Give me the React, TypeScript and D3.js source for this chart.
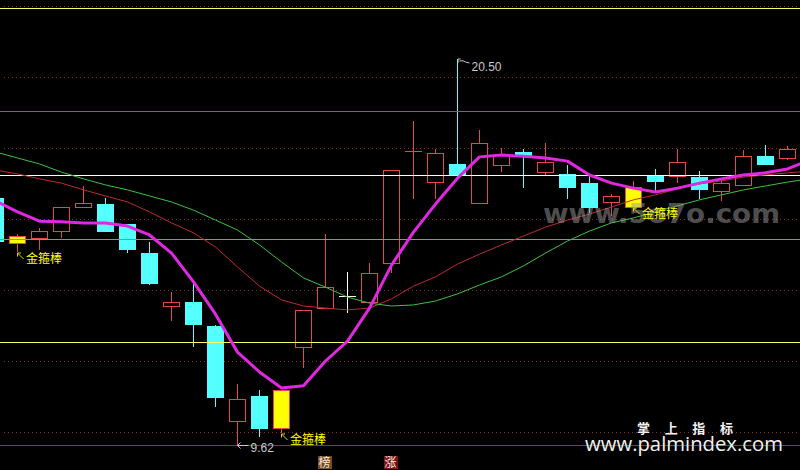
import * as d3 from "d3";

const W = 800;
const H = 470;

// daily K bars, left to right
const opens = [16.59, 15.32, 15.46, 15.66, 16.34, 16.42, 15.86, 15.04, 13.55, 13.66, 12.99, 10.31, 11.01, 10.11, 12.39, 13.49, 13.83, 13.66, 14.76, 17.92, 17.04, 17.55, 16.45, 17.52, 17.89, 17.32, 17.27, 17.01, 16.48, 16.34, 17.21, 17.21, 17.18, 16.79, 16.96, 17.77, 17.72];
const highs = [16.7, 15.58, 15.75, 16.34, 16.93, 16.59, 15.86, 15.35, 13.94, 14.2, 13.01, 11.35, 11.18, 11.18, 13.44, 15.58, 14.51, 14.76, 17.38, 18.76, 17.97, 20.5, 18.51, 18.0, 17.97, 18.14, 17.52, 17.21, 16.7, 17.07, 17.41, 17.97, 17.35, 17.1, 17.94, 18.08, 18.06];
const lows = [15.2, 15.07, 15.13, 15.46, 16.31, 15.63, 15.04, 14.14, 13.13, 12.39, 10.7, 9.62, 9.86, 9.97, 11.8, 13.49, 13.35, 13.66, 14.48, 16.56, 16.56, 17.13, 16.45, 17.32, 16.87, 17.24, 16.56, 16.17, 16.08, 16.34, 16.79, 17.01, 16.56, 16.51, 16.96, 17.52, 17.66];
const closes = [15.35, 15.52, 15.66, 16.34, 16.45, 15.63, 15.13, 14.17, 13.66, 13.01, 10.96, 10.93, 10.08, 11.18, 13.44, 14.08, 13.83, 14.48, 17.38, 17.92, 17.86, 17.24, 18.14, 17.8, 17.77, 17.61, 16.87, 16.31, 16.65, 16.9, 17.04, 17.61, 16.82, 17.01, 17.77, 17.52, 17.97];

// 金箍棒 signal bars and the white cross
const goldBars = [1, 13, 29];
const whiteCross = [16];

// indicator lines (one extra value past the right edge)
const fastLine = [16.51, 16.2, 15.94, 15.92, 15.89, 15.89, 15.8, 15.55, 15.04, 14.23, 13.32, 12.25, 11.69, 11.24, 11.3, 12.0, 12.56, 13.49, 14.7, 15.63, 16.42, 17.15, 17.75, 17.8, 17.77, 17.72, 17.63, 17.24, 17.01, 16.87, 16.76, 16.87, 17.01, 17.13, 17.24, 17.3, 17.41, 17.66];
const maRed = [17.38, 17.27, 17.13, 17.01, 16.82, 16.65, 16.48, 16.2, 15.89, 15.61, 15.21, 14.65, 14.11, 13.72, 13.55, 13.49, 13.44, 13.49, 13.75, 14.11, 14.37, 14.73, 15.01, 15.27, 15.52, 15.77, 15.97, 16.14, 16.34, 16.54, 16.68, 16.85, 16.99, 17.07, 17.18, 17.24, 17.3, 17.35];
const maGreen = [17.89, 17.72, 17.55, 17.32, 17.13, 16.96, 16.82, 16.65, 16.48, 16.25, 15.97, 15.69, 15.27, 14.79, 14.34, 14.08, 13.8, 13.63, 13.55, 13.58, 13.69, 13.89, 14.14, 14.37, 14.68, 15.04, 15.38, 15.66, 15.89, 16.03, 16.2, 16.37, 16.54, 16.68, 16.82, 16.93, 17.04, 17.13];

// horizontal price levels
const levels = [21.94, 19.04, 17.24, 15.44, 12.54, 9.62];
const levelColors = ["#ffff60", "#c030c0", "#ffffff", "#40c840", "#ffff60", "#c02020"];
const gridPrices = [10, 12, 14, 16, 18, 20, 22];

const bottomTags = [
  { index: 15, text: "榜", bg: "#7a4a1c" },
  { index: 18, text: "涨", bg: "#7a1212" },
];

const UP = "#e04a4a";
const DOWN = "#54ffff";
const GOLD = "#ffff00";

const x = d3.scaleLinear().domain([0, 36]).range([-4.5, 787.5]);
const y = d3.scaleLinear().domain([10, 22]).range([432, 6]);
const py = (v: number) => Math.round(y(v));

const lineGen = d3
  .line<number>()
  .x((_, i) => x(i))
  .y((d) => y(d));

const cjk = "'Noto Sans CJK SC', sans-serif";

function Candle({ i }: { i: number }) {
  const cx = x(i);
  const o = opens[i], c = closes[i], hi = highs[i], lo = lows[i];
  const top = py(Math.max(o, c));
  const bot = py(Math.min(o, c));
  const yh = py(hi);
  const yl = py(lo);

  if (whiteCross.includes(i) || (o === c && !goldBars.includes(i))) {
    const col = whiteCross.includes(i) ? "#ffffff" : UP;
    return (
      <g shapeRendering="crispEdges" stroke={col}>
        <line x1={cx} x2={cx} y1={yh} y2={yl} />
        <line x1={cx - 8.5} x2={cx + 8.5} y1={top + 0.5} y2={top + 0.5} />
      </g>
    );
  }

  if (goldBars.includes(i)) {
    return (
      <g shapeRendering="crispEdges">
        <line x1={cx} x2={cx} y1={yh} y2={top} stroke={UP} />
        <line x1={cx} x2={cx} y1={bot} y2={yl} stroke={UP} />
        <rect x={cx - 8} y={top + 0.5} width={16} height={bot - top} fill={GOLD} stroke={UP} />
      </g>
    );
  }

  if (c > o) {
    return (
      <g shapeRendering="crispEdges" stroke={UP}>
        <line x1={cx} x2={cx} y1={yh} y2={top} />
        <line x1={cx} x2={cx} y1={bot} y2={yl} />
        <rect x={cx - 8} y={top + 0.5} width={16} height={bot - top} fill="#000" />
      </g>
    );
  }

  return (
    <g shapeRendering="crispEdges">
      <line x1={cx} x2={cx} y1={yh} y2={yl} stroke={DOWN} />
      <rect x={cx - 8.5} y={top} width={17} height={Math.max(1, bot - top)} fill={DOWN} />
    </g>
  );
}

function GoldLabel({ i }: { i: number }) {
  const cx = x(i);
  const ly = py(lows[i]);
  return (
    <g>
      <path
        d={`M${cx + 6},${ly + 7} L${cx},${ly + 1} M${cx},${ly + 1} L${cx + 3.5},${ly + 1} M${cx},${ly + 1} L${cx},${ly + 4.5}`}
        stroke="#d8d800"
        strokeWidth={1}
        fill="none"
      />
      <text x={cx + 8.5} y={ly + 10.5} fontSize={12} fontFamily={cjk} fill={GOLD}>
        金箍棒
      </text>
    </g>
  );
}

export default function App() {
  const n = opens.length;
  const hiIdx = d3.maxIndex(highs);
  const loIdx = d3.minIndex(lows);
  const hx = x(hiIdx);
  const hy = py(highs[hiIdx]);
  const lx = x(loIdx);
  const ly = py(lows[loIdx]);

  return (
    <svg
      width={W}
      height={H}
      viewBox={`0 0 ${W} ${H}`}
      style={{ position: "absolute", left: 0, top: 0, display: "block", background: "#000" }}
    >
      <rect width={W} height={H} fill="#000" />

      {/* dotted grid */}
      <g shapeRendering="crispEdges">
        {gridPrices.map((p) => (
          <line key={p} x1={4} x2={W} y1={py(p) + 0.5} y2={py(p) + 0.5} stroke="#8a2a2a" strokeDasharray="1 3" />
        ))}
      </g>

      {d3.range(n).map((i) => (
        <Candle key={i} i={i} />
      ))}

      {/* price levels */}
      <g shapeRendering="crispEdges">
        {levels.map((p, k) => (
          <line key={k} x1={0} x2={W} y1={py(p) + 0.5} y2={py(p) + 0.5} stroke={levelColors[k]} strokeWidth={k === 1 ? 1.5 : 1} />
        ))}
      </g>

      <path d={lineGen(maRed) ?? ""} fill="none" stroke="#c02c2c" strokeWidth={1} />
      <path d={lineGen(maGreen) ?? ""} fill="none" stroke="#40c040" strokeWidth={1} />
      <path d={lineGen(fastLine) ?? ""} fill="none" stroke="#e028e0" strokeWidth={3} strokeLinejoin="round" />

      {/* watermark */}
      <text
        x={543}
        y={223}
        fontSize={27}
        fontWeight="bold"
        fontFamily="'DejaVu Sans', sans-serif"
        fill="#9a9a9a"
        opacity={0.5}
        textLength={237}
        lengthAdjust="spacingAndGlyphs"
      >
        www.5o7o.com
      </text>

      {goldBars.map((i) => (
        <GoldLabel key={i} i={i} />
      ))}

      {/* highest / lowest marks */}
      <g stroke="#c8c8c8" fill="none" strokeWidth={1}>
        <path d={`M${hx + 0.5},${hy + 4} L${hx + 0.5},${hy} L${hx + 3},${hy} M${hx + 2},${hy + 2} Q${hx + 6},${hy + 1} ${hx + 8},${hy + 3} L${hx + 12},${hy + 4}`} />
        <path d={`M${lx},${ly + 0.5} L${lx + 11},${ly + 0.5} M${lx},${ly + 0.5} L${lx + 3},${ly - 2.5} M${lx},${ly + 0.5} L${lx + 3},${ly + 3.5}`} />
      </g>
      <text x={hx + 14} y={hy + 12} fontSize={12} fontFamily="'Liberation Sans', Arial, sans-serif" fill="#c8c8c8">
        {d3.format(".2f")(highs[hiIdx])}
      </text>
      <text x={lx + 13} y={ly + 7} fontSize={12} fontFamily="'Liberation Sans', Arial, sans-serif" fill="#c8c8c8">
        {d3.format(".2f")(lows[loIdx])}
      </text>

      {/* bottom tags */}
      {bottomTags.map((t) => (
        <g key={t.index}>
          <rect x={Math.round(x(t.index)) - 8} y={456} width={14} height={13} fill={t.bg} />
          <text x={x(t.index) - 1} y={467} fontSize={12} textAnchor="middle" fontFamily={cjk} fill="#f0e8e0">
            {t.text}
          </text>
        </g>
      ))}

      {/* site mark */}
      <text x={637} y={433} fontSize={13} fontWeight="bold" fontFamily={cjk} fill="#f2f2f2" textLength={96} lengthAdjust="spacing">
        掌 上 指 标
      </text>
      <text
        x={585}
        y={451}
        fontSize={20}
        fontFamily="'Open Sans', 'DejaVu Sans', sans-serif"
        fill="#f2f2f2"
        textLength={198}
        lengthAdjust="spacingAndGlyphs"
      >
        www.palmindex.com
      </text>
    </svg>
  );
}
